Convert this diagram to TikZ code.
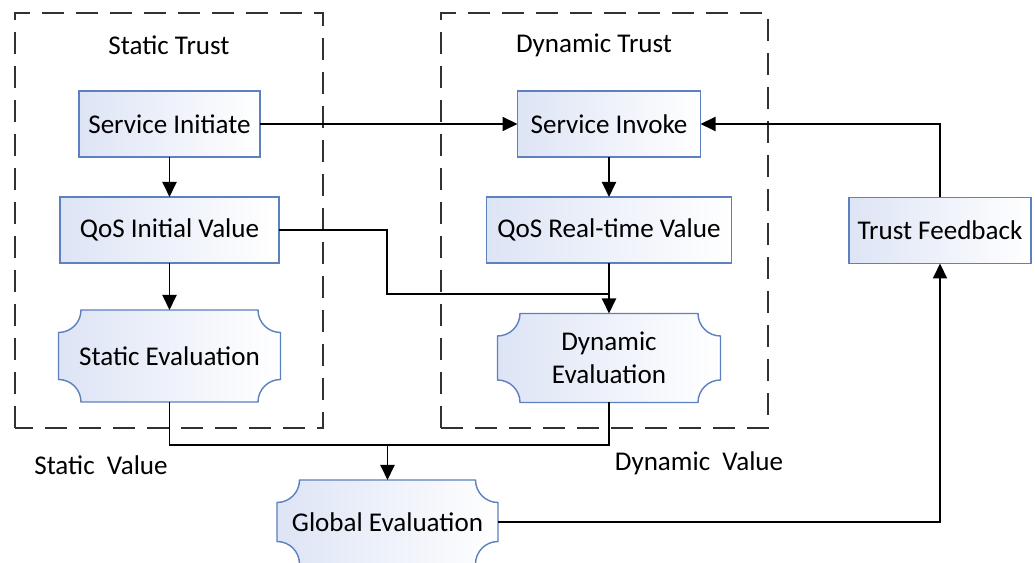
\documentclass[tikz,border=0pt]{standalone}
\usepackage{fontspec}
\setmainfont{Carlito}
\usetikzlibrary{arrows.meta,backgrounds}
\definecolor{boxblue}{RGB}{92,128,192}
\definecolor{boxfill}{RGB}{221,228,245}
\definecolor{dashgray}{RGB}{50,50,50}
\begin{document}
\begin{tikzpicture}[
	font=\fontsize{15.4}{18.5}\selectfont,
	box/.style={draw=boxblue, line width=0.8pt, left color=boxfill, right color=white, minimum height=1.32cm, inner sep=0pt, outer sep=0pt},
	evalnode/.style={inner sep=0pt, outer sep=0pt, align=center},
	evalshape/.style={draw=boxblue, line width=0.8pt, left color=boxfill, right color=white},
	trustbox/.style={draw=dashgray, line width=0.8pt, dash pattern=on 0.44cm off 0.24cm},
	wire/.style={line width=1.1pt},
	link/.style={line width=1.1pt, -{Triangle[length=0.3cm,width=0.28cm]}},
	]
	\useasboundingbox (0,0) rectangle (20.7,11.26);
	
	% trust areas
	\draw[trustbox] (0.30,2.70) rectangle (6.46,11.00);
	\draw[trustbox] (8.82,2.70) rectangle (15.36,11.00);
	\node (st) at (3.38,10.36) {Static Trust};
	\node (dt) at (11.88,10.36) {Dynamic Trust};
	
	\node[box, minimum width=3.62cm] (si) at (3.39,8.78) {Service Initiate};
	\node[box, minimum width=4.38cm] (qi) at (3.39,6.66) {QoS Initial Value};
	\node[evalnode, minimum width=4.44cm, minimum height=1.84cm] (se) at (3.39,4.14) {Static Evaluation};
	
	\node[box, minimum width=3.66cm] (sv) at (12.18,8.78) {Service Invoke};
	\node[box, minimum width=4.90cm] (qr) at (12.18,6.66) {QoS Real-time Value};
	\node[evalnode, minimum width=4.46cm, minimum height=1.78cm] (de) at (12.18,4.10) {Dynamic\\Evaluation};
	
	\node[box, minimum width=3.64cm] (tf) at (18.80,6.65) {Trust Feedback};
	\node[evalnode, minimum width=4.42cm, minimum height=1.68cm] (ge) at (7.75,0.82) {Global Evaluation};
	
	\node (sl) at (2.02,1.96) {Static\ \ Value};
	\node (dl) at (13.98,2.00) {Dynamic\ \ Value};
	
	% evaluation outlines with hollow corners
	\begin{scope}[on background layer]
	\foreach \n in {se,de,ge}
	\draw[evalshape] ([xshift=4.5mm]\n.north west) -- ([xshift=-4.5mm]\n.north east)
	arc[start angle=180, end angle=270, radius=4.5mm] -- ([yshift=4.5mm]\n.south east)
	arc[start angle=90, end angle=180, radius=4.5mm] -- ([xshift=4.5mm]\n.south west)
	arc[start angle=0, end angle=90, radius=4.5mm] -- ([yshift=-4.5mm]\n.north west)
	arc[start angle=270, end angle=360, radius=4.5mm] -- cycle;
	\end{scope}
	
	\coordinate (jq) at (7.74,5.38);
	\coordinate (jv) at (7.75,2.36);
	
	\draw[link] (si) -- (sv);
	\draw[link] (si) -- (qi);
	\draw[link] (qi) -- (se);
	\draw[link] (sv) -- (qr);
	\draw[link] (qr) -- (de);
	\draw[wire] (qi.east) -| (jq) -- (jq -| de.north);
	\draw[wire] (se.south) |- (jv) -| (de.south);
	\draw[link] (jv) -- (ge.north);
	\draw[link] (ge.east) -| (tf.south);
	\draw[link] (tf.north) |- (sv.east);
\end{tikzpicture}
\end{document}
